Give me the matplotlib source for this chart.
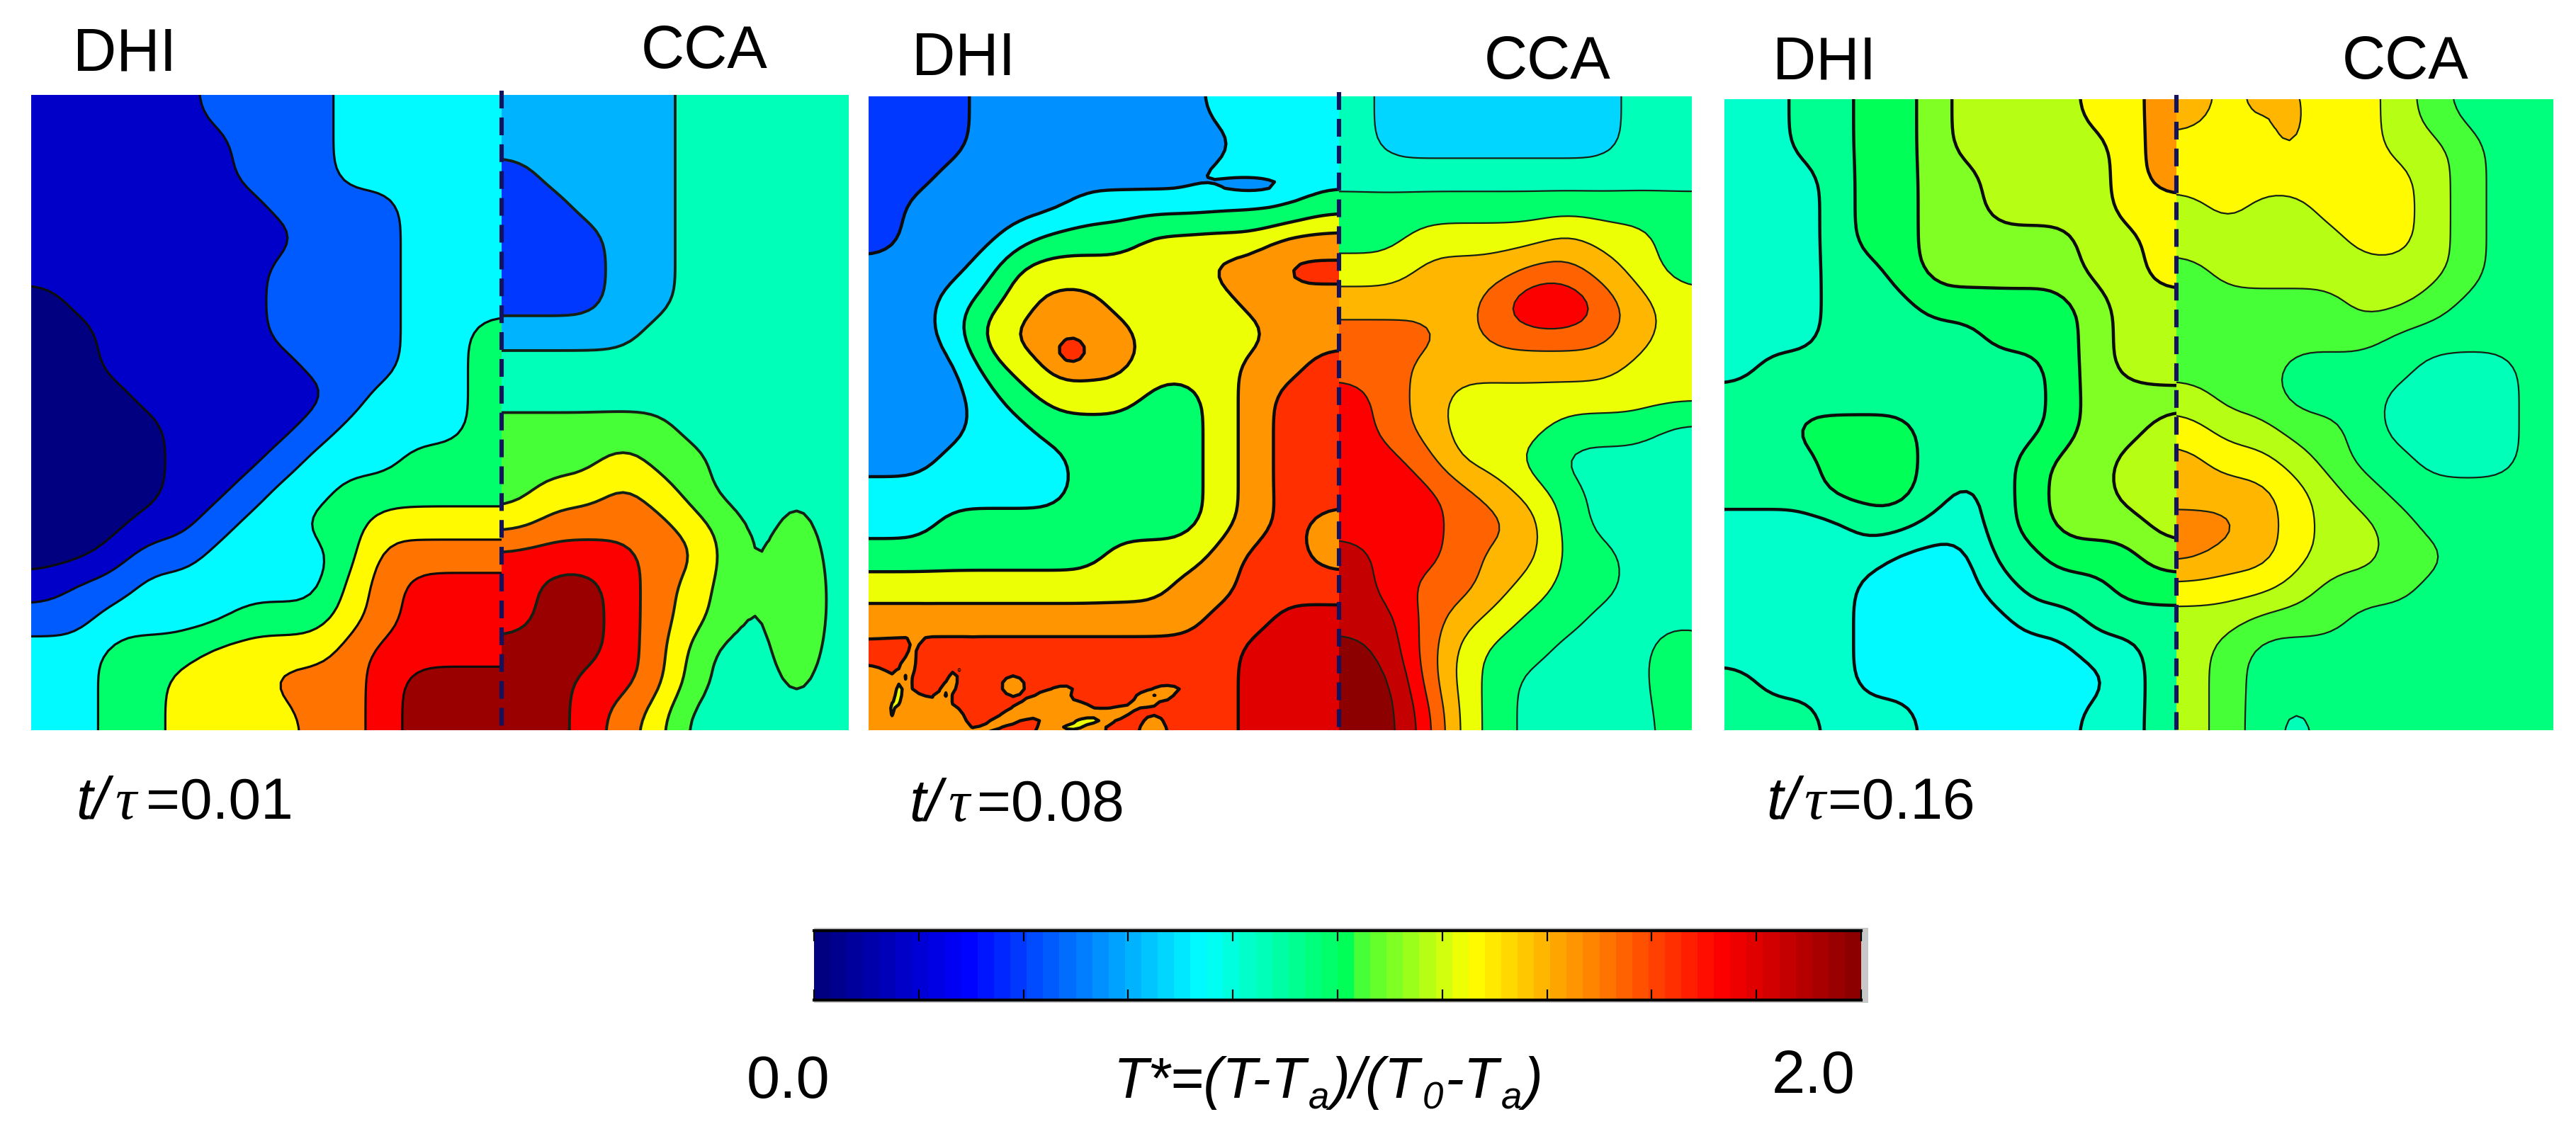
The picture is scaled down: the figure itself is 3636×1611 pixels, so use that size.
import numpy as np
import matplotlib
matplotlib.use("Agg")
import matplotlib.pyplot as plt
from matplotlib.colors import LinearSegmentedColormap, Normalize
from matplotlib.cm import ScalarMappable
from matplotlib.lines import Line2D

plt.rcParams['font.family'] = ['Liberation Sans', 'DejaVu Sans']

W, H = 3636, 1611

# T* value of every filled band, and the bands (top row first)
t_p1_left = [0.0, 0.17, 0.45, 0.74, 0.97, 1.25, 1.5, 1.74, 1.95]
band_p1_left = ["11111222233333", "11111122233333", "11111122233333", "11111112222333",
                "11111111222333", "11111112222333", "01111112222333", "00111112222334",
                "00111111222334", "00011111123334", "00001111233334", "00001112333444",
                "00001123344444", "00011233445555", "00122333346666", "12233333356777",
                "22333344456777", "33444555567777", "33445556667888", "33445555667888"]
t_p1_right = [0.39, 0.6, 0.85, 1.06, 1.25, 1.5, 1.74, 1.95]
band_p1_right = ["1111122222", "1111122222", "0111122222", "0011122222", "0001122222",
                 "0001122222", "0001122222", "1111222222", "2222222222", "2222222222",
                 "3333322222", "3334332222", "3445432222", "4555543222", "6666553222",
                 "6776543222", "6776543222", "7776532222", "7766532222", "7765422222"]
t_p2_left = [0.39, 0.54, 0.74, 0.97, 1.22, 1.44, 1.65, 1.81]
band_p2_left = ["00011111112222", "00011111111222", "00111111112222", "01111122222223",
                "01112333444455", "11124444445566", "11234554444555", "11245555444455",
                "11134555444556", "11123444334566", "11122333334566", "11222233334566",
                "22222233334566", "22333333334565", "33333334445665", "44444444455666",
                "55555555556677", "66666666666777", "56666666666777", "55566556566777"]
t_p2_right = [0.68, 0.85, 0.99, 1.22, 1.38, 1.56, 1.74, 1.85, 2.0]
band_p2_right = ["1000000011", "1000000011", "1111111111", "2222222222", "2233334332",
                 "3344455432", "4444566543", "5554555543", "5544444433", "6543333333",
                 "6543332221", "6653321111", "6665432111", "6665542111", "7665442211",
                 "7655432211", "7754322111", "8753221112", "8853211112", "8863211112"]
t_p3_left = [0.74, 0.82, 0.92, 1.0, 1.1, 1.18, 1.27, 1.44]
band_p3_left = ["11223345555667", "11223345555567", "11123344555567", "11123344555566",
                "11123344444556", "11122344444556", "11122233333455", "11122222333455",
                "12222222223455", "22222222223444", "22333322223445", "22233322234455",
                "22233321234455", "11112211234445", "11111000223334", "11110000122233",
                "11110000011222", "11110000000112", "21110000000012", "22211100000112"]
t_p3_right = [0.85, 0.95, 1.06, 1.16, 1.27, 1.38, 1.47]
band_p3_right = ["54544432111", "44444433211", "44444443211", "34334443211", "33333443211",
                 "23333333211", "22222332111", "22222211111", "22211110001", "32211100001",
                 "43322100001", "54432110001", "55543211111", "66543321111", "65543322111",
                 "44432221111", "33222111111", "32111111111", "32111111111", "32101111111"]

# small closed features of the fields: centre u, v, widths su, sv, angle (deg), band change
spots_p1_right = [(0.85, 0.795, 0.07, 0.115, 0, 1.05)]
spots_p2_left = [(0.431, 0.402, 0.026, 0.018, 0, 1.0), (0.812, 0.139, 0.05, 0.0085, 0, -1.0),
                 (0.165, 0.940, 0.032, 0.006, -55, -1.3), (0.07, 0.930, 0.04, 0.008, -65, -1.3),
                 (0.307, 0.930, 0.016, 0.011, 0, -1.3), (0.330, 0.968, 0.06, 0.008, -20, -1.3),
                 (0.615, 0.943, 0.03, 0.006, -10, -1.3), (0.47, 0.985, 0.05, 0.006, -12, -1.3)]
spots_p2_right = [(0.60, 0.335, 0.09, 0.028, 0, 0.7), (0.95, 0.90, 0.06, 0.05, 0, 0.3)]
spots_p3_right = [(0.30, 0.025, 0.025, 0.035, 0, 0.8)]

panel_labels = ["0.01", "0.08", "0.16"]
cbar_min, cbar_max = 0.0, 2.0
cbar_ticks = [0.0, 0.2, 0.4, 0.6, 0.8, 1.0, 1.2, 1.4, 1.6, 1.8, 2.0]

cmap = LinearSegmentedColormap.from_list(
    "tstar",
    [(0.0, (0, 0, .5)), (0.14, (0, 0, 1)), (0.37, (0, 1, 1)), (0.51, (0, 1, .33)),
     (0.525, (.3, 1, .2)), (0.63, (1, 1, 0)), (0.87, (1, 0, 0)), (1.0, (.55, 0, 0))], N=64)
norm = Normalize(cbar_min, cbar_max)

fig = plt.figure(figsize=(W / 100, H / 100), dpi=100, facecolor='white')


def px_axes(x0, y0, x1, y1):
    return fig.add_axes([x0 / W, 1 - y1 / H, (x1 - x0) / W, (y1 - y0) / H])


def smooth_field(rows, spots):
    z = np.array([[int(c) + 0.5 for c in r] for r in rows], dtype=float)
    z = np.pad(z, 1, mode='edge')
    ny, nx = z.shape
    k = 5
    yy = np.linspace(0, ny - 1, (ny - 1) * k + 1)
    xx = np.linspace(0, nx - 1, (nx - 1) * k + 1)
    z = np.array([np.interp(xx, np.arange(nx), row) for row in z])
    z = np.array([np.interp(yy, np.arange(ny), col) for col in z.T]).T
    box = np.ones(k) / k
    for _ in range(3):
        p = np.pad(z, k, mode='edge')
        p = np.apply_along_axis(lambda m: np.convolve(m, box, mode='same'), 0, p)
        p = np.apply_along_axis(lambda m: np.convolve(m, box, mode='same'), 1, p)
        z = p[k:-k, k:-k]
    u = (xx - 0.5) / (nx - 2)
    v = (yy - 0.5) / (ny - 2)
    uu, vv = np.meshgrid(u, v)
    for cu, cv, su, sv, ang, amp in spots:
        t = np.radians(ang)
        du, dv = uu - cu, vv - cv
        a = du * np.cos(t) + dv * np.sin(t)
        b = -du * np.sin(t) + dv * np.cos(t)
        z = z + amp * np.exp(-0.5 * ((a / su) ** 2 + (b / sv) ** 2))
    return u, v, z


def draw_half(box, rows, temps, lw, lc, spots=()):
    ax = px_axes(*box)
    u, v, z = smooth_field(rows, spots)
    lv = np.arange(len(temps) + 1, dtype=float)
    lv[0] = -5
    lv[-1] = len(temps) + 5
    ax.contourf(u, v, z, levels=lv, colors=[cmap(norm(t)) for t in temps])
    ax.contour(u, v, z, levels=np.arange(1, len(temps)), colors=lc, linewidths=lw)
    ax.set_xlim(0, 1)
    ax.set_ylim(1, 0)
    ax.axis('off')
    return ax


panels = [
    (43.5, 708, 1198, 134, 1031, band_p1_left, t_p1_left, (), 2.3, band_p1_right, t_p1_right, spots_p1_right, 2.8),
    (1226, 1890, 2388, 136, 1031, band_p2_left, t_p2_left, spots_p2_left, 3.2, band_p2_right, t_p2_right, spots_p2_right, 1.6),
    (2434, 3072, 3604, 140, 1031, band_p3_left, t_p3_left, (), 3.2, band_p3_right, t_p3_right, spots_p3_right, 1.6),
]
for x0, xm, x1, y0, y1, bl, tl, sl, wl, br, tr, sr, wr in panels:
    draw_half((x0, y0, xm, y1), bl, tl, wl, '#0c0c0c', sl)
    draw_half((xm, y0, x1, y1), br, tr, wr, '#152015', sr)
    fig.add_artist(Line2D([xm / W, xm / W], [1 - (y0 - 6) / H, 1 - y1 / H], color='#12125e',
                          lw=4.4, linestyle=(0, (4.1, 2.1))))


def txt(x, y, s, **kw):
    return fig.text(x / W, 1 - y / H, s, va='baseline', ha='left', color='black', **kw)


FS = 61
for x, y, s in [(103, 99, "DHI"), (905, 96, "CCA"), (1287, 105, "DHI"), (2095, 111, "CCA"),
                (2502, 111, "DHI"), (3306, 111, "CCA")]:
    txt(x, y, s, fontsize=FS)

label_pos = [(107, 162, 206, 1156), (1283, 1338, 1379, 1159), (2493, 2546, 2580, 1156)]
for (xa, xb, xc, y), lab in zip(label_pos, panel_labels):
    txt(xa, y, "t/", fontsize=FS - 1, style='italic')
    txt(xb, y, "\u03c4", fontsize=FS - 1, style='italic', family='Liberation Serif')
    txt(xc, y, "=" + lab, fontsize=FS - 2)

# colour bar
shadow = px_axes(1149, 1310, 2637, 1416)
shadow.set_facecolor('#c8c8c8')
shadow.set_xticks([])
shadow.set_yticks([])
for s in shadow.spines.values():
    s.set_visible(False)
cax = px_axes(1149, 1314, 2627, 1412)
cb = fig.colorbar(ScalarMappable(norm=norm, cmap=cmap), cax=cax, orientation='horizontal')
cb.set_ticks(cbar_ticks)
cax.tick_params(axis='x', which='both', direction='in', top=True, bottom=True, length=11,
                width=1.6, labelbottom=False, color='black')
cb.outline.set_visible(False)
for side in ('top', 'bottom'):
    cax.spines[side].set_visible(True)
    cax.spines[side].set_linewidth(3)
    cax.spines[side].set_color('black')

txt(1054, 1550, "0.0", fontsize=FS)
txt(2501, 1543, "2.0", fontsize=FS)

# the formula, written piece by piece so that subscripts sit as in the reference
renderer = fig.canvas.get_renderer()
cursor = 1572
for piece, size, drop in [("T*=(T-T", 58, 0), ("a", 38, 16), (")/(T", 58, 0), ("0", 38, 16),
                          ("-T", 58, 0), ("a", 38, 16), (")", 58, 0)]:
    t = txt(cursor, 1550 + drop, piece, fontsize=size, style='italic')
    cursor += t.get_window_extent(renderer).width + 3

fig.savefig("out.png", dpi=100, facecolor='white')
